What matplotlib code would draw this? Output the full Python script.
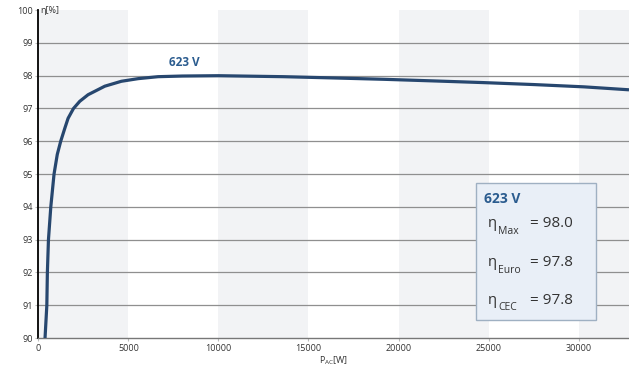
import matplotlib.pyplot as plt
from matplotlib.patches import Rectangle

plt.rcParams['font.family'] = ['Open Sans', 'DejaVu Sans']
plt.rcParams['mathtext.fontset'] = 'custom'
plt.rcParams['mathtext.rm'] = 'Open Sans'
plt.rcParams['mathtext.it'] = 'Open Sans'

# efficiency curve
p_ac = [370, 470, 500, 560, 690, 870, 1050, 1240, 1470, 1650, 1950, 2300,
        2760, 3690, 4610, 5540, 6650, 8000, 10000, 13600, 16500, 19200,
        22000, 24700, 27500, 30300, 32800]
eta = [90.0, 91.0, 92.0, 93.0, 94.0, 95.0, 95.6, 96.0, 96.4, 96.7, 97.0,
       97.22, 97.42, 97.68, 97.83, 97.91, 97.97, 97.99, 98.0, 97.97, 97.93,
       97.89, 97.84, 97.79, 97.73, 97.66, 97.57]
band_starts = [0, 10000, 20000, 30000]
x_ticks = [0, 5000, 10000, 15000, 20000, 25000, 30000]
y_ticks = [90, 91, 92, 93, 94, 95, 96, 97, 98, 99, 100]
voltage = "623 V"
eta_max, eta_euro, eta_cec = 98.0, 97.8, 97.8

blue = "#2b5c8f"
fig = plt.figure(figsize=(6.29, 3.74), dpi=100)
ax = fig.add_axes([0.061, 0.096, 0.939, 0.877])

for b in band_starts:
    ax.axvspan(b, b + 5000, color="#f2f3f5", lw=0, zorder=0)
for y in y_ticks[1:-1]:
    ax.axhline(y, color="#8f8f8f", lw=0.9, zorder=1)

ax.plot(p_ac, eta, color="#27476f", lw=2.3, zorder=3, solid_capstyle="butt",
        solid_joinstyle="round")
ax.text(8100, 98.2, voltage, color=blue, fontsize=8.5, fontweight="bold",
        ha="center", va="bottom")

ax.set_xlim(0, 32800)
ax.set_ylim(90, 100)
ax.set_xticks(x_ticks)
ax.set_yticks(y_ticks)
ax.tick_params(axis="both", labelsize=6.5, labelcolor="#333333", length=2,
               color="#bbbbbb", pad=2)
for s in ["top", "right"]:
    ax.spines[s].set_visible(False)
ax.spines["left"].set_color("black")
ax.spines["left"].set_linewidth(1.3)
ax.spines["bottom"].set_color("#777777")
ax.spines["bottom"].set_linewidth(1.0)

ax.text(0.004, 1.0, "η[%]", transform=ax.transAxes, fontsize=6.5,
        color="#333333", ha="left", va="center")
ax.set_xlabel(r"$\mathrm{P_{AC}}$[W]", fontsize=6.5, color="#333333",
              labelpad=1)

box = Rectangle((0.741, 0.055), 0.203, 0.418, transform=ax.transAxes,
                facecolor="#e9eff7", edgecolor="#9fb0c2", lw=1.0, zorder=4)
ax.add_patch(box)
ax.text(0.754, 0.425, voltage, transform=ax.transAxes, color=blue,
        fontsize=10, fontweight="bold", va="center", zorder=5)
rows = [("Max", eta_max, 0.348), ("Euro", eta_euro, 0.229),
        ("CEC", eta_cec, 0.116)]
for sub, val, y in rows:
    ax.text(0.761, y, "η", transform=ax.transAxes, color="#333333",
            fontsize=10.5, va="center", zorder=5)
    ax.text(0.779, y - 0.024, sub, transform=ax.transAxes, color="#333333",
            fontsize=7.5, va="center", zorder=5)
    ax.text(0.905, y, "= %.1f" % val, transform=ax.transAxes,
            color="#333333", fontsize=11, ha="right", va="center", zorder=5)

fig.savefig("out.png", dpi=100)
